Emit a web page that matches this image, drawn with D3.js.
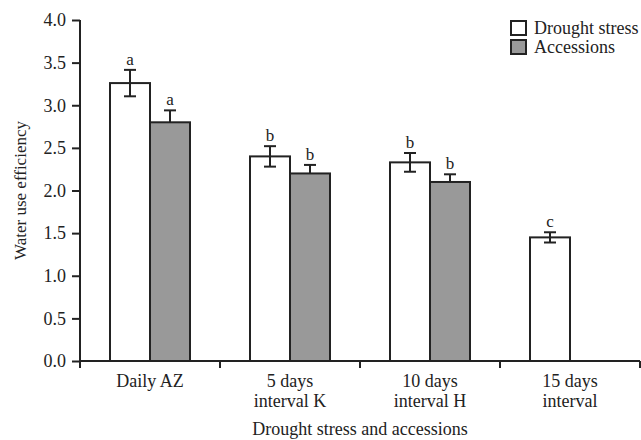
<!DOCTYPE html>
<html><head><meta charset="utf-8">
<script src="https://cdn.jsdelivr.net/npm/d3@7"></script>
<style>body{margin:0;background:#fff}svg{display:block}text{font-family:"Liberation Serif","Times New Roman",serif;fill:#222}</style>
</head><body>
<script>
const categories = [["Daily AZ"], ["5 days", "interval K"], ["10 days", "interval H"], ["15 days", "interval"]];
const seriesNames = ["Drought stress", "Accessions"];
const droughtValues = [3.26, 2.40, 2.33, 1.45];
const droughtErrors = [0.155, 0.12, 0.11, 0.06];
const droughtLetters = ["a", "b", "b", "c"];
const accessionValues = [2.80, 2.20, 2.10, null];
const accessionErrors = [0.14, 0.10, 0.09, null];
const accessionLetters = ["a", "b", "b", null];
const yTicks = [0, 0.5, 1, 1.5, 2, 2.5, 3, 3.5, 4];

const W = 641, H = 440;
const svg = d3.select("body").append("svg").attr("width", W).attr("height", H);
const x = d3.scaleBand().domain(d3.range(categories.length)).range([80, 640]);
const y = d3.scaleLinear().domain([0, 4]).range([361, 20]);
const colors = ["#fff", "#999"];
const ink = "#222";
const barW = 40;

const series = [
  {vals: droughtValues, errs: droughtErrors, letters: droughtLetters, off: -barW, full: true},
  {vals: accessionValues, errs: accessionErrors, letters: accessionLetters, off: 0, full: false}
];

series.forEach((s, si) => {
  s.vals.forEach((v, i) => {
    if (v == null) return;
    const cx = x(i) + x.bandwidth() / 2 + s.off;
    const g = svg.append("g");
    g.append("rect").attr("x", cx).attr("y", y(v)).attr("width", barW).attr("height", y(0) - y(v))
      .attr("fill", colors[si]).attr("stroke", ink).attr("stroke-width", 2);
    const mx = cx + barW / 2, e = s.errs[i];
    const lo = s.full ? v - e : v;
    g.append("line").attr("x1", mx).attr("x2", mx).attr("y1", y(v + e)).attr("y2", y(lo)).attr("stroke", ink).attr("stroke-width", 2);
    g.append("line").attr("x1", mx - 6).attr("x2", mx + 6).attr("y1", y(v + e)).attr("y2", y(v + e)).attr("stroke", ink).attr("stroke-width", 2);
    if (s.full) g.append("line").attr("x1", mx - 6).attr("x2", mx + 6).attr("y1", y(v - e)).attr("y2", y(v - e)).attr("stroke", ink).attr("stroke-width", 2);
    g.append("text").attr("x", mx).attr("y", y(v + e) - 5).attr("text-anchor", "middle").attr("font-size", 17).text(s.letters[i]);
  });
});

// y axis
const yAxis = svg.append("g").attr("transform", "translate(80,0)")
  .call(d3.axisLeft(y).tickValues(yTicks).tickFormat(d3.format(".1f")).tickSize(8).tickPadding(6));
yAxis.select(".domain").attr("stroke", ink).attr("stroke-width", 2).attr("d", `M0,${y(4)}V${y(0)}`);
yAxis.selectAll(".tick line").attr("stroke", ink).attr("stroke-width", 2);
yAxis.selectAll("text").attr("font-size", 18).attr("fill", ink).style("font-family", '"Liberation Serif",serif');

// x axis
const xAxis = svg.append("g").attr("transform", `translate(0,${y(0)})`);
xAxis.append("line").attr("x1", 80).attr("x2", 640).attr("stroke", ink).attr("stroke-width", 2);
const tickPos = d3.range(categories.length + 1).map(i => i < categories.length ? x(i) : x(categories.length - 1) + x.bandwidth());
xAxis.selectAll(".xt").data(tickPos).join("line").attr("x1", d => d).attr("x2", d => d).attr("y1", 0).attr("y2", 7)
  .attr("stroke", ink).attr("stroke-width", 2);
categories.forEach((lines, i) => {
  const t = xAxis.append("text").attr("x", x(i) + x.bandwidth() / 2).attr("y", 26).attr("text-anchor", "middle").attr("font-size", 18);
  lines.forEach((l, j) => t.append("tspan").attr("x", x(i) + x.bandwidth() / 2).attr("dy", j ? 20 : 0).text(l));
});

svg.append("text").attr("x", 360).attr("y", 435).attr("text-anchor", "middle").attr("font-size", 18).text("Drought stress and accessions");
svg.append("text").attr("transform", `translate(26,${(y(0) + y(4)) / 2}) rotate(-90)`).attr("text-anchor", "middle").attr("font-size", 17).text("Water use efficiency");

// legend
seriesNames.forEach((n, i) => {
  const ly = 21 + i * 19;
  svg.append("rect").attr("x", 511).attr("y", ly).attr("width", 15).attr("height", 14).attr("fill", colors[i]).attr("stroke", ink).attr("stroke-width", 2);
  svg.append("text").attr("x", 534).attr("y", ly + 13).attr("font-size", 18).text(n);
});
</script>
</body></html>
